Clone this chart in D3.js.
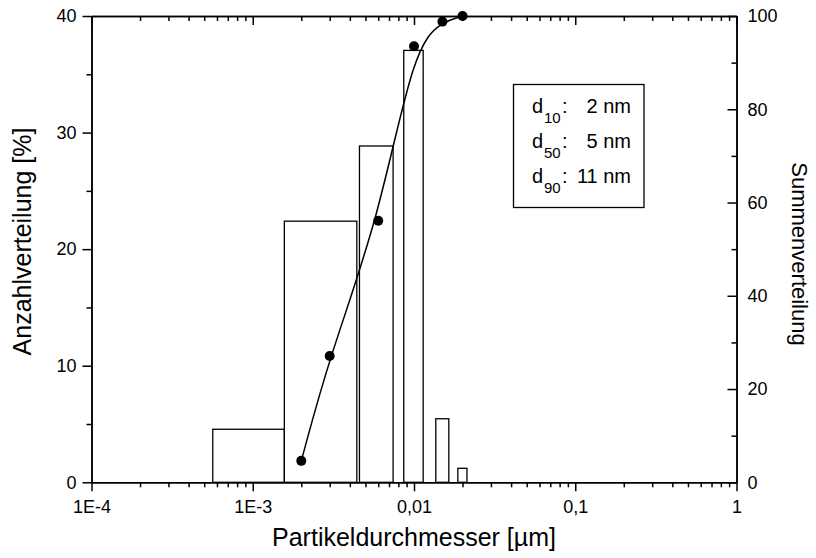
<!DOCTYPE html>
<html>
<head>
<meta charset="utf-8">
<script src="https://cdn.jsdelivr.net/npm/d3@7"></script>
<style>
  body { margin: 0; background: #fff; }
  text { font-family: "Liberation Sans", Arial, sans-serif; fill: #000; }
  .axis path, .axis line { stroke: #000; stroke-width: 1.5; }
</style>
</head>
<body>
<div id="chart"></div>
<script>
// histogram bins (µm) and number distribution (%)
let binStart = [0.000565, 0.00157, 0.00459, 0.00864, 0.01365, 0.0187];
let binEnd   = [0.00157, 0.00442, 0.00742, 0.0114, 0.01644, 0.0213];
let counts   = [4.55, 22.4, 28.85, 37.05, 5.45, 1.2];

// cumulative distribution
let cumX = [0.002, 0.003, 0.006, 0.01, 0.015, 0.02];
let cumY = [4.6, 27.1, 56.1, 93.5, 98.8, 100];

let xTicks = [1e-4, 1e-3, 1e-2, 1e-1, 1];
let xTickLabels = ['1E-4', '1E-3', '0,01', '0,1', '1'];
let yTicks = [0, 10, 20, 30, 40];
let y2Ticks = [0, 20, 40, 60, 80, 100];

let legendLabels = ['10', '50', '90'];
let legendValues = ['2 nm', '5 nm', '11 nm'];

let W = 816, H = 558;
let margin = {top: 16, right: 79.5, bottom: 75.7, left: 91.5},
    width = W - margin.left - margin.right,
    height = H - margin.top - margin.bottom;

let x = d3.scaleLog().domain([1e-4, 1]).range([0, width]);
let y = d3.scaleLinear().domain([0, 40]).range([height, 0]);
let y2 = d3.scaleLinear().domain([0, 100]).range([height, 0]);

let svg = d3.select('#chart').append('svg')
  .attr('width', W)
  .attr('height', H);

let g = svg.append('g')
  .attr('transform', `translate(${margin.left}, ${margin.top})`);

// minor tick values
let xMinor = [];
[1e-4, 1e-3, 1e-2, 1e-1].forEach(d => {
  for (let k = 2; k <= 9; k++) xMinor.push(d * k);
});
let yMinor = [5, 15, 25, 35];
let y2Minor = [10, 30, 50, 70, 90];

// bars
g.selectAll('.bar')
  .data(counts)
  .enter().append('rect')
    .attr('class', 'bar')
    .attr('x', (d, i) => x(binStart[i]))
    .attr('width', (d, i) => x(binEnd[i]) - x(binStart[i]))
    .attr('y', d => y(d))
    .attr('height', d => height - y(d))
    .style('fill', '#fff')
    .style('stroke', '#000')
    .style('stroke-width', 1.3);

// cumulative curve
let cum = cumX.map((d, i) => [d, cumY[i]]);
let line = d3.line()
  .x(d => x(d[0]))
  .y(d => y2(d[1]))
  .curve(d3.curveBasis);

g.append('path')
  .datum(cum)
  .attr('d', line)
  .style('fill', 'none')
  .style('stroke', '#000')
  .style('stroke-width', 1.5);

g.selectAll('.dot')
  .data(cum)
  .enter().append('circle')
    .attr('class', 'dot')
    .attr('cx', d => x(d[0]))
    .attr('cy', d => y2(d[1]))
    .attr('r', 5)
    .style('fill', '#000');

// axes
function styleAxis(sel) {
  sel.attr('class', 'axis');
  sel.selectAll('text').style('font-size', '18px').style('font-family', '"Liberation Sans", Arial, sans-serif');
}

// bottom
g.append('g')
  .attr('transform', `translate(0, ${height})`)
  .call(d3.axisBottom(x).tickValues(xMinor).tickSize(5).tickFormat('').tickSizeOuter(0))
  .call(styleAxis);
g.append('g')
  .attr('transform', `translate(0, ${height})`)
  .call(d3.axisBottom(x).tickValues(xTicks).tickSize(9).tickPadding(9)
    .tickFormat((d, i) => xTickLabels[i]).tickSizeOuter(0))
  .call(styleAxis);

// top (ticks inward)
g.append('g')
  .call(d3.axisTop(x).tickValues(xMinor).tickSize(-5).tickFormat('').tickSizeOuter(0))
  .call(styleAxis);
g.append('g')
  .call(d3.axisTop(x).tickValues(xTicks).tickSize(-9).tickFormat('').tickSizeOuter(0))
  .call(styleAxis);

// left
g.append('g')
  .call(d3.axisLeft(y).tickValues(yMinor).tickSize(5).tickFormat('').tickSizeOuter(0))
  .call(styleAxis);
g.append('g')
  .call(d3.axisLeft(y).tickValues(yTicks).tickSize(9).tickPadding(6).tickSizeOuter(0))
  .call(styleAxis);

// right (ticks inward)
g.append('g')
  .attr('transform', `translate(${width}, 0)`)
  .call(d3.axisRight(y2).tickValues(y2Minor).tickSize(-5).tickFormat('').tickSizeOuter(0))
  .call(styleAxis);
g.append('g')
  .attr('transform', `translate(${width}, 0)`)
  .call(d3.axisRight(y2).tickValues(y2Ticks).tickSize(-9).tickPadding(11).tickSizeOuter(0))
  .call(styleAxis);

// axis titles
svg.append('text')
  .attr('x', margin.left + width / 2)
  .attr('y', 546)
  .attr('text-anchor', 'middle')
  .style('font-size', '25px')
  .text('Partikeldurchmesser [µm]');

svg.append('text')
  .attr('transform', `translate(31, 241.5) rotate(-90)`)
  .attr('text-anchor', 'middle')
  .style('font-size', '25px')
  .text('Anzahlverteilung [%]');

svg.append('text')
  .attr('transform', `translate(792, 254) rotate(90)`)
  .attr('text-anchor', 'middle')
  .style('font-size', '22px')
  .text('Summenverteilung');

// legend box
let lg = svg.append('g').attr('transform', 'translate(513.5, 84.5)');
lg.append('rect')
  .attr('width', 130.5)
  .attr('height', 123)
  .style('fill', '#fff')
  .style('stroke', '#000')
  .style('stroke-width', 1.3);

let rows = lg.selectAll('.row')
  .data(legendLabels)
  .enter().append('g')
    .attr('class', 'row')
    .attr('transform', (d, i) => `translate(0, ${28 + i * 35})`);

rows.append('text')
  .attr('x', 18.5)
  .style('font-size', '20px')
  .text('d');
rows.append('text')
  .attr('x', 30.5)
  .attr('y', 10.5)
  .style('font-size', '15px')
  .text(d => d);
rows.append('text')
  .attr('x', 48.5)
  .style('font-size', '20px')
  .text(':');
rows.append('text')
  .attr('x', 117.5)
  .attr('text-anchor', 'end')
  .style('font-size', '20px')
  .text((d, i) => legendValues[i]);
</script>
</body>
</html>
